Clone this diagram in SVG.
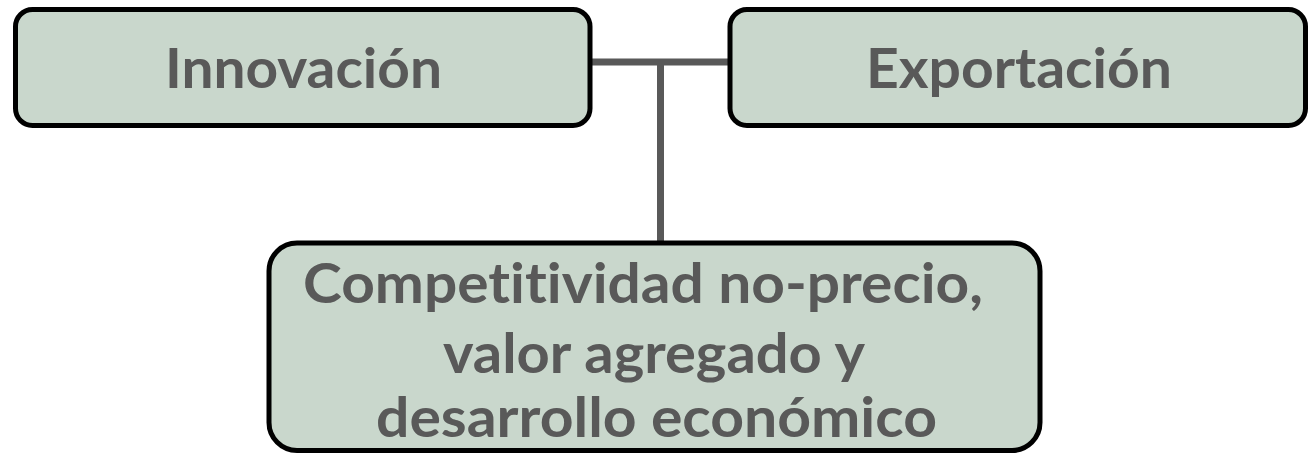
<svg xmlns="http://www.w3.org/2000/svg" width="1310" height="454" viewBox="0 0 1310 454">
<style>
.box{fill:#c9d7cc;stroke:#000;stroke-width:5}
.lbl{font-family:Lato,"Open Sans","DejaVu Sans",sans-serif;font-weight:bold;font-size:56px;fill:#595959;text-anchor:middle;font-variant-ligatures:none;font-feature-settings:"liga" 0,"clig" 0}
.conn{stroke:#595959;stroke-width:7;fill:none}
</style>
<rect width="1310" height="454" fill="#fff"/>
<g id="connectors">
<line class="conn" x1="590" y1="62" x2="730" y2="62"/>
<line class="conn" x1="660.5" y1="62" x2="660.5" y2="243"/>
</g>
<g id="innovacion">
<rect class="box" x="15.5" y="9.5" width="574.5" height="116" rx="17"/>
<text class="lbl" x="303.5" y="88" textLength="277" lengthAdjust="spacingAndGlyphs">Innovación</text>
</g>
<g id="exportacion">
<rect class="box" x="730" y="9.5" width="575.5" height="116" rx="17"/>
<text class="lbl" x="1019" y="88" textLength="306" lengthAdjust="spacingAndGlyphs">Exportación</text>
</g>
<g id="competitividad">
<rect class="box" x="269" y="243" width="771" height="207.5" rx="28"/>
<text class="lbl" x="643" y="303" textLength="680" lengthAdjust="spacingAndGlyphs">Competitividad no-precio,</text>
<text class="lbl" x="654" y="373" textLength="422" lengthAdjust="spacingAndGlyphs">valor agregado y</text>
<text class="lbl" x="656.5" y="437" textLength="561" lengthAdjust="spacingAndGlyphs">desarrollo económico</text>
</g>
</svg>
